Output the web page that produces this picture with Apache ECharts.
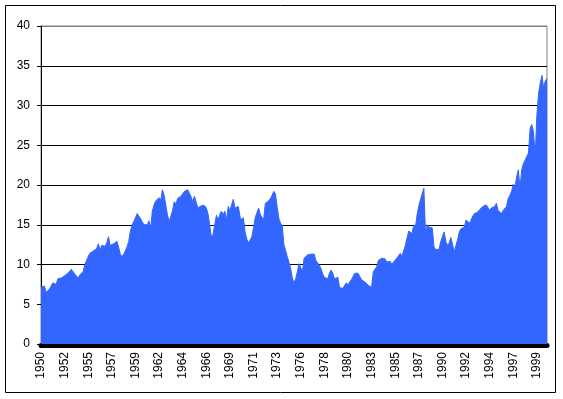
<!DOCTYPE html>
<html lang="en">
<head>
    <meta charset="UTF-8">
    <title>P/E 1950-1999</title>
    <script src="https://cdn.jsdelivr.net/npm/echarts@6/dist/echarts.min.js"></script>
    <style>
        html, body { margin: 0; padding: 0; background: #fff; }
        #chart { width: 563px; height: 399px; }
    </style>
</head>
<body>
<div id="chart"></div>

<script type="text/javascript">

    // x labels, one every 28 months
    var tickLabels = ['1950', '1952', '1955', '1957', '1959', '1962', '1964', '1966', '1969', '1971', '1973',
        '1976', '1978', '1980', '1983', '1985', '1987', '1990', '1992', '1994', '1997', '1999'];
    var labelStep = 28;
    var monthStep = 2;   // one value every 2 months

    // values, 60 per block
    var pe1950s = [7.1, 7.1, 7.3, 6.5, 6.7, 6.9, 7.0, 7.7, 7.6, 7.5,
        8.2, 8.2, 8.3, 8.4, 8.6, 8.8, 8.9, 8.7, 9.4, 9.2,
        8.8, 8.8, 8.3, 8.7, 8.7, 9.1, 10.0, 10.5, 11.0, 11.4,
        11.6, 11.7, 11.9, 12.0, 12.6, 11.8, 12.4, 12.6, 12.3, 12.7,
        13.5, 12.4, 12.3, 12.6, 12.7, 12.9, 12.2, 11.3, 11.0, 11.3,
        11.7, 12.2, 12.9, 14.2, 15.0, 15.4, 15.9, 16.4, 16.2, 15.8];
    var pe1960s = [16.0, 15.0, 15.2, 15.0, 15.5, 14.5, 16.7, 17.5, 18.0, 18.1,
        18.4, 18.1, 19.4, 18.7, 18.9, 16.2, 15.4, 15.4, 16.8, 17.9,
        17.6, 18.3, 18.4, 18.6, 18.6, 19.2, 19.4, 19.4, 19.5, 18.5,
        17.9, 18.6, 18.8, 17.1, 17.1, 17.4, 17.5, 17.4, 17.1, 16.4,
        15.0, 13.4, 13.8, 15.0, 16.2, 15.6, 16.3, 16.7, 16.3, 16.7,
        15.6, 17.3, 16.8, 17.5, 18.2, 17.1, 17.3, 17.3, 16.0, 15.6];
    var pe1970s = [15.9, 14.1, 13.2, 12.7, 12.9, 13.5, 14.6, 15.9, 16.0, 17.1,
        16.3, 16.1, 15.6, 17.7, 17.8, 18.0, 18.3, 18.7, 19.2, 18.9,
        17.3, 15.8, 15.2, 14.9, 12.5, 11.8, 11.0, 10.3, 9.5, 8.3,
        7.7, 8.2, 9.1, 10.1, 9.6, 9.1, 10.8, 11.0, 11.2, 11.2,
        11.3, 11.3, 11.3, 10.5, 10.2, 9.9, 9.5, 8.8, 8.4, 8.2,
        8.2, 8.9, 9.3, 8.9, 8.2, 8.1, 8.4, 7.1, 7.3, 7.0];
    var pe1980s = [7.2, 7.7, 7.4, 7.8, 8.1, 8.5, 8.9, 8.7, 8.9, 8.5,
        8.1, 8.2, 7.8, 7.7, 7.4, 7.3, 7.1, 9.1, 9.4, 9.7,
        10.5, 10.6, 10.8, 10.8, 10.7, 10.3, 10.4, 10.4, 10.0, 10.3,
        10.1, 10.8, 10.8, 11.4, 11.0, 11.2, 12.4, 12.5, 14.2, 14.2,
        13.9, 15.0, 14.7, 16.3, 17.4, 17.3, 18.9, 19.6, 13.7, 15.0,
        14.7, 14.5, 14.6, 12.2, 11.9, 11.9, 11.9, 12.9, 13.1, 14.1];
    var pe1990s = [12.9, 12.4, 12.7, 13.4, 13.4, 11.6, 12.4, 13.1, 14.1, 14.5,
        14.3, 14.7, 15.6, 15.4, 15.2, 15.6, 16.1, 16.4, 16.5, 16.6,
        16.9, 16.9, 17.3, 17.2, 17.5, 17.3, 16.8, 17.1, 17.3, 17.3,
        17.7, 16.8, 16.8, 16.4, 16.8, 16.8, 17.3, 18.3, 18.7, 19.2,
        20.1, 19.7, 21.0, 21.9, 19.6, 21.9, 22.7, 23.1, 23.6, 24.0,
        27.1, 27.6, 26.7, 23.6, 28.8, 31.5, 32.8, 33.8, 32.2, 33.1,
        33.4];

    var peValues = pe1950s.concat(pe1960s, pe1970s, pe1980s, pe1990s);
    var lastMonth = (peValues.length - 1) * monthStep;

    var chart = echarts.init(document.getElementById('chart'), null, {renderer: 'canvas'});

    var gridLines = ['#000', '#000', '#000', '#000', '#000', '#000', '#000', '#000', '#808080'];

    var option = {
        animation: false,
        backgroundColor: '#fff',
        graphic: [{
            type: 'rect',
            shape: {x: 5.5, y: 5.5, width: 550, height: 387},
            style: {fill: 'none', stroke: '#000', lineWidth: 1},
            silent: true
        }],
        grid: {
            left: 41, right: 16, top: 26, bottom: 55,
            show: true,
            borderColor: '#808080',
            borderWidth: 1,
            backgroundColor: '#fff'
        },
        xAxis: {
            type: 'value',
            min: 0,
            max: lastMonth,
            interval: labelStep,
            offset: 1,
            axisLine: {show: true, onZero: false, lineStyle: {color: '#000', width: 5}},
            axisTick: {show: false},
            splitLine: {show: false},
            axisLabel: {
                rotate: 90,
                margin: 7,
                showMaxLabel: false,
                fontFamily: 'Arial, "Liberation Sans", sans-serif',
                fontSize: 12,
                color: '#000',
                formatter: function (val) {
                    var i = val / labelStep;
                    return (i % 1 === 0 && tickLabels[i]) ? tickLabels[i] : '';
                }
            }
        },
        yAxis: {
            type: 'value',
            min: 0,
            max: 40,
            interval: 5,
            axisLine: {show: true, lineStyle: {color: '#000', width: 1}},
            axisTick: {show: true, inside: false, length: 4, lineStyle: {color: '#000'}},
            splitLine: {show: true, lineStyle: {color: gridLines, width: 1}},
            axisLabel: {
                margin: 11,
                fontFamily: 'Arial, "Liberation Sans", sans-serif',
                fontSize: 12,
                color: '#000'
            }
        },
        series: [{
            type: 'line',
            data: peValues.map(function (v, i) { return [i * monthStep, v]; }),
            showSymbol: false,
            symbol: 'none',
            lineStyle: {color: '#3366ff', width: 1},
            areaStyle: {color: '#3366ff', opacity: 1},
            z: 1
        }]
    };

    chart.setOption(option);

</script>
</body>
</html>
